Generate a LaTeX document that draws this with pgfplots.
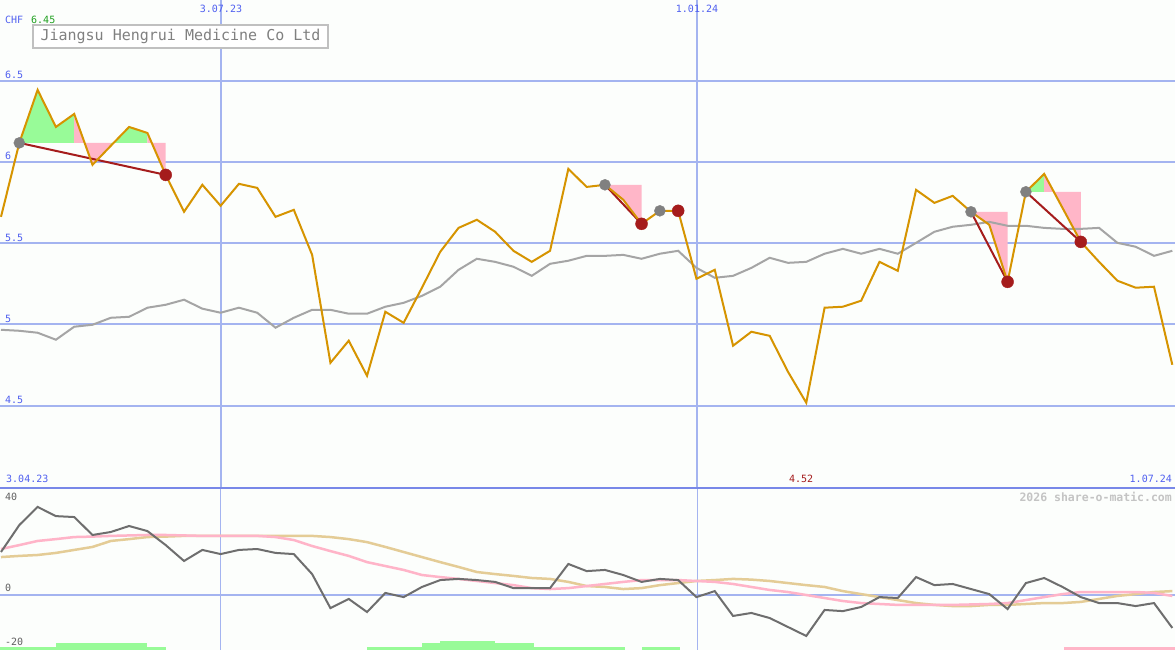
\documentclass[border=0pt]{standalone}
\usepackage{pgfplots}
\pgfplotsset{compat=1.18}
\usepackage{pgfplotstable}
\usepackage{fontspec}
\setmainfont{DejaVu Sans Mono}

\definecolor{bg}{RGB}{252,254,252}
\definecolor{gridblue}{RGB}{164,180,240}
\definecolor{sepblue}{RGB}{120,136,232}
\definecolor{labblue}{RGB}{80,96,240}
\definecolor{orangeline}{RGB}{214,148,0}
\definecolor{maGray}{RGB}{165,165,165}
\definecolor{darkred}{RGB}{165,28,28}
\definecolor{mkgray}{RGB}{128,128,128}
\definecolor{pinkfill}{RGB}{255,182,200}
\definecolor{greenfill}{RGB}{152,251,152}
\definecolor{momgray}{RGB}{110,110,110}
\definecolor{pinkline}{RGB}{255,180,200}
\definecolor{tanline}{RGB}{228,204,150}
\definecolor{titlegray}{RGB}{128,128,128}
\definecolor{boxgray}{RGB}{192,192,192}
\definecolor{greenlab}{RGB}{32,160,32}
\definecolor{lowlab}{RGB}{96,96,96}
\definecolor{wmgray}{RGB}{196,196,196}

\newcommand\tickfont{\fontsize{10}{12}\selectfont}

\pgfplotstableread{
k close ma
0 5.662 4.967
1 6.117 4.961
2 6.443 4.949
3 6.215 4.906
4 6.295 4.986
5 5.982 4.998
6 6.099 5.041
7 6.215 5.047
8 6.178 5.103
9 5.920 5.121
10 5.693 5.152
11 5.859 5.097
12 5.730 5.072
13 5.865 5.103
14 5.840 5.072
15 5.662 4.980
16 5.705 5.041
17 5.428 5.090
18 4.764 5.090
19 4.900 5.066
20 4.684 5.066
21 5.078 5.109
22 5.010 5.133
23 5.226 5.176
24 5.447 5.232
25 5.594 5.336
26 5.644 5.404
27 5.570 5.385
28 5.453 5.355
29 5.385 5.299
30 5.453 5.373
31 5.957 5.392
32 5.846 5.422
33 5.859 5.422
34 5.767 5.428
35 5.619 5.404
36 5.699 5.435
37 5.699 5.453
38 5.281 5.348
39 5.336 5.287
40 4.869 5.299
41 4.955 5.348
42 4.930 5.410
43 4.709 5.379
44 4.518 5.385
45 5.103 5.435
46 5.109 5.465
47 5.146 5.435
48 5.385 5.465
49 5.330 5.435
50 5.828 5.502
51 5.748 5.570
52 5.791 5.601
53 5.693 5.613
54 5.613 5.631
55 5.262 5.607
56 5.816 5.607
57 5.926 5.594
58 5.717 5.588
59 5.508 5.588
60 5.385 5.594
61 5.269 5.502
62 5.226 5.478
63 5.232 5.422
64 4.752 5.453
}\pricetab

\pgfplotstableread{
k mom pink tan
0 18.7 20.0 16.5
1 30.4 21.7 17.0
2 38.3 23.5 17.4
3 34.3 24.3 18.3
4 33.9 25.2 19.6
5 26.1 25.4 20.9
6 27.4 25.7 23.5
7 30.0 25.9 24.3
8 27.8 26.1 25.2
9 21.7 26.1 25.4
10 14.8 25.9 25.7
11 19.6 25.7 25.7
12 17.8 25.7 25.7
13 19.6 25.7 25.7
14 20.0 25.7 25.7
15 18.3 25.2 25.7
16 17.8 23.9 25.7
17 9.1 21.3 25.7
18 -5.7 19.1 25.2
19 -1.7 17.0 24.3
20 -7.4 14.3 23.0
21 0.9 12.6 20.9
22 -0.9 10.9 18.7
23 3.5 8.7 16.5
24 6.5 7.8 14.3
25 7.0 7.0 12.2
26 6.5 6.1 10.0
27 5.7 5.2 9.1
28 3.0 4.3 8.3
29 3.0 3.0 7.4
30 3.0 2.6 7.0
31 13.5 3.0 5.7
32 10.4 3.9 3.9
33 10.9 4.8 3.5
34 8.7 5.7 2.6
35 5.7 6.5 3.0
36 7.0 6.5 4.3
37 6.5 6.5 5.2
38 -0.9 6.1 6.1
39 1.7 5.7 6.5
40 -9.1 4.8 7.0
41 -7.8 3.5 6.7
42 -10.0 2.2 6.1
43 -13.9 1.3 5.2
44 -17.8 0.0 4.3
45 -6.5 -1.3 3.5
46 -7.0 -2.6 1.7
47 -5.2 -3.5 0.4
48 -0.9 -3.9 -0.9
49 -1.3 -4.3 -2.2
50 7.8 -4.3 -3.5
51 4.3 -4.3 -4.3
52 4.8 -4.3 -4.8
53 2.6 -4.1 -4.8
54 0.4 -3.9 -4.3
55 -6.1 -3.5 -4.3
56 5.2 -2.2 -3.9
57 7.4 -0.9 -3.5
58 3.5 0.4 -3.5
59 -0.9 1.3 -3.0
60 -3.5 1.3 -1.7
61 -3.5 1.3 -0.4
62 -4.8 1.3 0.4
63 -3.5 0.9 1.3
64 -14.3 -0.4 1.7
}\lowtab

\begin{document}
\begin{tikzpicture}
\fill[bg] (0pt,0pt) rectangle (1175pt,650pt);

% ---------------- upper panel ----------------
\begin{axis}[at={(0pt,163pt)}, anchor=south west, scale only axis,
  width=1175pt, height=487pt,
  xmin=-0.055, xmax=64.15, ymin=4.0, ymax=6.996,
  axis line style={draw=none}, tick style={draw=none},
  ytick={4.5,5,5.5,6,6.5}, yticklabels={},
  xtick={12.02,38.03}, xticklabels={},
  ymajorgrids, xmajorgrids,
  major grid style={gridblue, line width=2pt},
  clip=true]
% signal fills
\addplot[fill=greenfill, draw=none] coordinates {(1,6.117) (2,6.443) (3,6.215) (4,6.295) (4,6.117)};
\addplot[fill=pinkfill, draw=none] coordinates {(4,6.117) (4,6.295) (5,5.982) (6,6.099) (6,6.117)};
\addplot[fill=greenfill, draw=none] coordinates {(6,6.117) (6,6.099) (7,6.215) (8,6.178) (8,6.117)};
\addplot[fill=pinkfill, draw=none] coordinates {(8,6.117) (8,6.178) (9,5.920) (9,6.117)};
\addplot[fill=pinkfill, draw=none] coordinates {(33,5.859) (34,5.767) (35,5.619) (35,5.859)};
\addplot[fill=pinkfill, draw=none] coordinates {(53,5.693) (54,5.613) (55,5.262) (55,5.693)};
\addplot[fill=greenfill, draw=none] coordinates {(56,5.816) (57,5.926) (57,5.816)};
\addplot[fill=pinkfill, draw=none] coordinates {(57,5.816) (57,5.926) (58,5.717) (59,5.508) (59,5.816)};
% moving average
\addplot[maGray, line width=2pt] table[x=k, y=ma] {\pricetab};
% signal lines
\addplot[darkred, line width=2pt] coordinates {(1,6.117) (9,5.920)};
\addplot[darkred, line width=2pt] coordinates {(33,5.859) (35,5.619)};
\addplot[darkred, line width=2pt] coordinates {(36,5.699) (37,5.699)};
\addplot[darkred, line width=2pt] coordinates {(53,5.693) (55,5.262)};
\addplot[darkred, line width=2pt] coordinates {(56,5.816) (59,5.508)};
% markers
\addplot[only marks, mark=*, mark size=5.5pt, mkgray, mark options={draw=none, fill=mkgray}] coordinates {(1,6.117) (33,5.859) (36,5.699) (53,5.693) (56,5.816)};
\addplot[only marks, mark=*, mark size=6pt, darkred, mark options={draw=none, fill=darkred}] coordinates {(9,5.920) (35,5.619) (37,5.699) (55,5.262) (59,5.508)};
% price
\addplot[orangeline, line width=2pt] table[x=k, y=close] {\pricetab};

% labels
\node[anchor=base west, inner sep=0pt, font=\tickfont, text=labblue, xshift=5pt, yshift=2pt] at (axis cs:-0.055,6.5) {6.5};
\node[anchor=base west, inner sep=0pt, font=\tickfont, text=labblue, xshift=5pt, yshift=2pt] at (axis cs:-0.055,6.0) {6};
\node[anchor=base west, inner sep=0pt, font=\tickfont, text=labblue, xshift=5pt, yshift=2pt] at (axis cs:-0.055,5.5) {5.5};
\node[anchor=base west, inner sep=0pt, font=\tickfont, text=labblue, xshift=5pt, yshift=2pt] at (axis cs:-0.055,5.0) {5};
\node[anchor=base west, inner sep=0pt, font=\tickfont, text=labblue, xshift=5pt, yshift=2pt] at (axis cs:-0.055,4.5) {4.5};
\node[anchor=center, inner sep=0pt, font=\tickfont, text=labblue] at (axis cs:12.02,6.941) {3.07.23};
\node[anchor=center, inner sep=0pt, font=\tickfont, text=labblue] at (axis cs:38.03,6.941) {1.01.24};
\node[anchor=west, inner sep=0pt, font=\tickfont, text=labblue, xshift=5pt] at (axis cs:-0.055,6.873) {CHF};
\node[anchor=west, inner sep=0pt, font=\tickfont, text=greenlab, xshift=31pt] at (axis cs:-0.055,6.873) {6.45};
\node[anchor=west, inner sep=0pt, font=\tickfont, text=labblue, xshift=6pt] at (axis cs:-0.055,4.050) {3.04.23};
\node[anchor=center, inner sep=0pt, font=\tickfont, text=darkred] at (axis cs:43.72,4.050) {4.52};
\node[anchor=east, inner sep=0pt, font=\tickfont, text=labblue, xshift=-3pt] at (axis cs:64.15,4.050) {1.07.24};
\end{axis}

% ---------------- lower panel ----------------
\begin{axis}[at={(0pt,0pt)}, anchor=south west, scale only axis,
  width=1175pt, height=161pt,
  xmin=-0.055, xmax=64.15, ymin=-23.9, ymax=46.09,
  axis line style={draw=none}, tick style={draw=none},
  ytick={0}, yticklabels={},
  xtick={12.02,38.03}, xticklabels={},
  ymajorgrids, xmajorgrids,
  x grid style={gridblue, line width=1pt},
  y grid style={gridblue, line width=2pt},
  clip=true]
% bottom bars
\addplot[fill=greenfill, draw=none] coordinates {(-0.1,-25) (-0.1,-22.6) (9,-22.6) (9,-25)};
\addplot[fill=greenfill, draw=none] coordinates {(3,-25) (3,-20.9) (8,-20.9) (8,-25)};
\addplot[fill=greenfill, draw=none] coordinates {(20,-25) (20,-22.6) (34.1,-22.6) (34.1,-25)};
\addplot[fill=greenfill, draw=none] coordinates {(23,-25) (23,-20.9) (29.1,-20.9) (29.1,-25)};
\addplot[fill=greenfill, draw=none] coordinates {(24,-25) (24,-20.0) (27,-20.0) (27,-25)};
\addplot[fill=greenfill, draw=none] coordinates {(35,-25) (35,-22.6) (37.1,-22.6) (37.1,-25)};
\addplot[fill=pinkfill, draw=none] coordinates {(58.1,-25) (58.1,-22.6) (64.3,-22.6) (64.3,-25)};
% lines
\addplot[tanline, line width=2.5pt] table[x=k, y=tan] {\lowtab};
\addplot[pinkline, line width=2.5pt] table[x=k, y=pink] {\lowtab};
\addplot[momgray, line width=2pt] table[x=k, y=mom] {\lowtab};
% labels
\node[anchor=west, inner sep=0pt, font=\tickfont, text=lowlab, xshift=5pt] at (axis cs:-0.055,42.6) {40};
\node[anchor=west, inner sep=0pt, font=\tickfont, text=lowlab, xshift=5pt] at (axis cs:-0.055,3.0) {0};
\node[anchor=west, inner sep=0pt, font=\tickfont, text=lowlab, xshift=5pt] at (axis cs:-0.055,-20.4) {-20};
\node[anchor=east, inner sep=0pt, font=\fontsize{11.5}{13}\selectfont\bfseries, text=wmgray, xshift=-3pt] at (axis cs:64.15,42.6) {2026 share-o-matic.com};
\end{axis}

% separator
\draw[sepblue, line width=2pt] (0pt,162pt) -- (1175pt,162pt);
% title box
\draw[boxgray, line width=2pt, fill=white] (33pt,602pt) rectangle (328pt,625pt);
\node[anchor=center, inner sep=0pt, font=\fontsize{15}{18}\selectfont, text=titlegray] at (180.5pt,613.5pt) {Jiangsu Hengrui Medicine Co Ltd};

\pgfresetboundingbox
\useasboundingbox (0pt,0pt) rectangle (1175pt,650pt);
\end{tikzpicture}
\end{document}
